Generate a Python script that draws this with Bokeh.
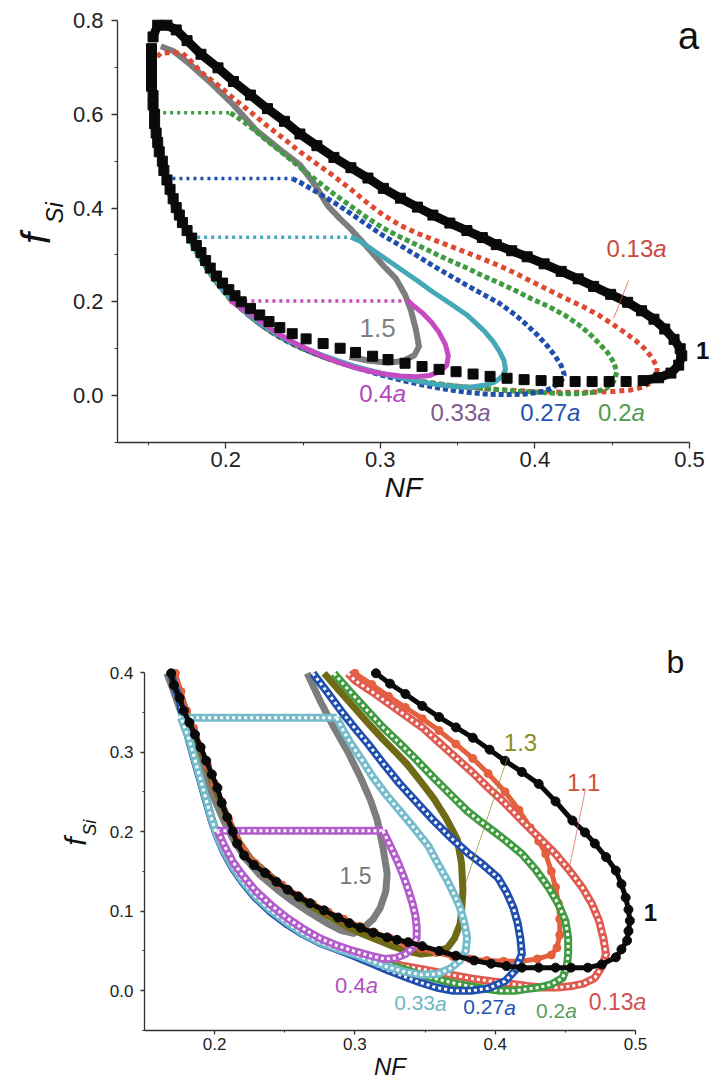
from bokeh.plotting import figure
from bokeh.models import Range1d, FixedTicker, Label, PrintfTickFormatter
from bokeh.layouts import column
from bokeh.embed import file_html
from bokeh.resources import INLINE

FONT = "Liberation Sans"

# ---------------- Panel a data (NF, f_Si) ----------------
BLACK_A_UPPER = [(0.153,0.765),(0.156,0.790),(0.162,0.790),(0.168,0.780),(0.175,0.757),(0.184,0.728),(0.195,0.699),(0.205,0.670),(0.216,0.641),(0.227,0.612),(0.238,0.585),(0.248,0.558),(0.259,0.533),(0.270,0.508),(0.281,0.486),(0.292,0.464),(0.302,0.442),(0.313,0.421),(0.324,0.402),(0.334,0.385),(0.345,0.368),(0.356,0.352),(0.366,0.337),(0.375,0.322),(0.385,0.309),(0.395,0.296),(0.406,0.281),(0.417,0.265),(0.428,0.249),(0.438,0.233),(0.449,0.216),(0.460,0.199),(0.469,0.181),(0.477,0.163),(0.484,0.142),(0.490,0.120),(0.494,0.100),(0.495,0.085),(0.493,0.065),(0.488,0.048),(0.480,0.038),(0.470,0.032)]
BLACK_A_LOWER = [(0.459,0.030),(0.448,0.030),(0.437,0.030),(0.426,0.030),(0.415,0.030),(0.404,0.032),(0.393,0.034),(0.382,0.037),(0.371,0.041),(0.360,0.046),(0.349,0.051),(0.338,0.056),(0.327,0.062),(0.316,0.069),(0.305,0.077),(0.295,0.084),(0.284,0.092),(0.274,0.101),(0.263,0.111),(0.252,0.121),(0.243,0.132),(0.235,0.145),(0.228,0.158),(0.222,0.172),(0.216,0.186),(0.210,0.200),(0.206,0.213),(0.202,0.226),(0.198,0.240),(0.194,0.255),(0.190,0.272),(0.187,0.288),(0.184,0.305),(0.181,0.320),(0.178,0.336),(0.175,0.352),(0.172,0.369),(0.170,0.385),(0.168,0.401),(0.166,0.420),(0.164,0.440),(0.162,0.460),(0.160,0.480),(0.159,0.500),(0.157,0.520),(0.156,0.540),(0.155,0.560),(0.154,0.580),(0.154,0.600),(0.153,0.620),(0.153,0.640),(0.152,0.660),(0.152,0.680),(0.152,0.700),(0.152,0.720),(0.152,0.740)]
RED_A = [(0.153,0.610),(0.153,0.650),(0.153,0.690),(0.154,0.718),(0.158,0.730),(0.165,0.732),(0.172,0.730),(0.178,0.712),(0.184,0.690),(0.195,0.662),(0.205,0.634),(0.216,0.605),(0.227,0.575),(0.238,0.547),(0.248,0.520),(0.259,0.494),(0.270,0.468),(0.281,0.440),(0.292,0.410),(0.302,0.385),(0.313,0.363),(0.324,0.346),(0.334,0.333),(0.345,0.319),(0.356,0.305),(0.366,0.292),(0.377,0.277),(0.388,0.260),(0.398,0.243),(0.409,0.225),(0.420,0.207),(0.431,0.190),(0.441,0.172),(0.450,0.153),(0.458,0.135),(0.465,0.118),(0.471,0.100),(0.476,0.080),(0.479,0.060),(0.479,0.045),(0.476,0.030),(0.470,0.018),(0.462,0.012),(0.452,0.009),(0.441,0.008),(0.430,0.007),(0.419,0.007),(0.408,0.008),(0.397,0.009),(0.386,0.011),(0.375,0.013),(0.364,0.016),(0.353,0.019),(0.342,0.023),(0.331,0.028),(0.320,0.034),(0.309,0.041),(0.298,0.049),(0.287,0.058),(0.276,0.068),(0.265,0.080),(0.254,0.094),(0.243,0.110),(0.233,0.128),(0.224,0.148),(0.216,0.168),(0.209,0.188),(0.203,0.205),(0.198,0.225),(0.193,0.245),(0.188,0.270),(0.183,0.295),(0.179,0.320),(0.176,0.340),(0.172,0.365),(0.168,0.390),(0.165,0.415),(0.163,0.440),(0.161,0.462),(0.159,0.490),(0.157,0.520),(0.155,0.550),(0.154,0.580),(0.153,0.610)]
GREEN_A_CUT = [(0.155,0.603),(0.203,0.603)]
GREEN_A = [(0.203,0.603),(0.209,0.590),(0.216,0.573),(0.227,0.543),(0.238,0.514),(0.248,0.487),(0.259,0.458),(0.270,0.430),(0.281,0.404),(0.292,0.378),(0.302,0.357),(0.313,0.338),(0.324,0.321),(0.334,0.305),(0.345,0.288),(0.356,0.272),(0.366,0.256),(0.377,0.240),(0.388,0.223),(0.398,0.206),(0.409,0.190),(0.420,0.170),(0.428,0.152),(0.435,0.133),(0.441,0.113),(0.447,0.092),(0.451,0.071),(0.453,0.050),(0.451,0.030),(0.446,0.015),(0.438,0.007),(0.428,0.004),(0.418,0.004),(0.408,0.006),(0.397,0.008),(0.386,0.010),(0.375,0.013),(0.364,0.016),(0.353,0.019),(0.342,0.023),(0.331,0.028),(0.320,0.034),(0.309,0.041),(0.298,0.049),(0.287,0.058),(0.276,0.068),(0.265,0.080),(0.254,0.094),(0.243,0.110),(0.233,0.128),(0.224,0.148),(0.216,0.168),(0.209,0.188),(0.203,0.205),(0.198,0.225),(0.193,0.245),(0.188,0.270),(0.183,0.295),(0.179,0.320),(0.176,0.340),(0.172,0.365),(0.168,0.390),(0.165,0.415),(0.163,0.440),(0.161,0.462),(0.159,0.490),(0.157,0.520),(0.155,0.550),(0.154,0.580),(0.155,0.603)]
BLUE_A_CUT = [(0.161,0.463),(0.243,0.463)]
BLUE_A = [(0.243,0.463),(0.248,0.455),(0.259,0.434),(0.270,0.412),(0.281,0.388),(0.292,0.363),(0.302,0.341),(0.313,0.320),(0.324,0.298),(0.334,0.277),(0.345,0.256),(0.356,0.235),(0.366,0.217),(0.377,0.197),(0.387,0.173),(0.395,0.150),(0.402,0.128),(0.408,0.106),(0.413,0.085),(0.417,0.064),(0.419,0.045),(0.417,0.030),(0.411,0.016),(0.403,0.007),(0.392,0.003),(0.381,0.002),(0.370,0.003),(0.359,0.006),(0.349,0.010),(0.338,0.016),(0.327,0.023),(0.316,0.031),(0.305,0.040),(0.294,0.050),(0.283,0.061),(0.272,0.072),(0.261,0.085),(0.250,0.100),(0.240,0.116),(0.231,0.134),(0.222,0.153),(0.215,0.172),(0.208,0.192),(0.203,0.208),(0.198,0.227),(0.193,0.248),(0.188,0.272),(0.183,0.297),(0.179,0.320),(0.176,0.340),(0.172,0.365),(0.168,0.390),(0.165,0.415),(0.163,0.440),(0.161,0.463)]
CYAN_A_CUT = [(0.177,0.338),(0.281,0.338)]
CYAN_A = [(0.281,0.338),(0.287,0.329),(0.292,0.318),(0.302,0.295),(0.313,0.270),(0.324,0.245),(0.334,0.221),(0.345,0.197),(0.356,0.172),(0.362,0.154),(0.368,0.135),(0.373,0.115),(0.377,0.095),(0.380,0.075),(0.381,0.056),(0.379,0.041),(0.374,0.029),(0.367,0.022),(0.358,0.018),(0.349,0.019),(0.338,0.023),(0.327,0.029),(0.316,0.036),(0.305,0.044),(0.294,0.053),(0.283,0.063),(0.272,0.075),(0.261,0.088),(0.250,0.103),(0.240,0.119),(0.231,0.136),(0.222,0.155),(0.215,0.173),(0.208,0.193),(0.203,0.208),(0.198,0.227),(0.193,0.248),(0.188,0.272),(0.183,0.297),(0.179,0.318),(0.177,0.338)]
MAGENTA_A_CUT = [(0.203,0.2017),(0.318,0.2017)]
MAGENTA_A = [(0.318,0.202),(0.322,0.190),(0.327,0.177),(0.333,0.157),(0.338,0.135),(0.342,0.110),(0.344,0.085),(0.343,0.065),(0.339,0.052),(0.332,0.043),(0.323,0.040),(0.313,0.042),(0.303,0.046),(0.293,0.052),(0.283,0.060),(0.273,0.071),(0.263,0.084),(0.253,0.099),(0.243,0.115),(0.234,0.132),(0.226,0.150),(0.219,0.167),(0.212,0.183),(0.207,0.194),(0.203,0.202)]
GRAY_A = [(0.158,0.745),(0.166,0.735),(0.175,0.712),(0.190,0.668),(0.205,0.620),(0.220,0.565),(0.235,0.525),(0.248,0.492),(0.258,0.448),(0.266,0.405),(0.274,0.377),(0.281,0.355),(0.292,0.315),(0.302,0.277),(0.310,0.250),(0.316,0.215),(0.320,0.180),(0.323,0.141),(0.325,0.105),(0.322,0.086),(0.315,0.074),(0.305,0.070),(0.292,0.075),(0.280,0.083)]

# ---------------- Panel b data ----------------
BLACK_B = [(0.315,0.399),(0.325,0.386),(0.336,0.373),(0.348,0.358),(0.360,0.344),(0.372,0.331),(0.384,0.318),(0.396,0.303),(0.407,0.289),(0.419,0.275),(0.431,0.260),(0.443,0.238),(0.455,0.214),(0.464,0.199),(0.471,0.185),(0.479,0.168),(0.486,0.151),(0.490,0.134),(0.493,0.117),(0.495,0.102),(0.496,0.088),(0.495,0.075),(0.494,0.063),(0.490,0.052),(0.486,0.042),(0.476,0.033),(0.466,0.029),(0.454,0.029),(0.443,0.029),(0.431,0.029),(0.419,0.029),(0.408,0.031),(0.397,0.034),(0.385,0.038),(0.372,0.044),(0.360,0.050),(0.348,0.056),(0.338,0.061),(0.330,0.064),(0.323,0.067),(0.313,0.073),(0.304,0.079),(0.296,0.085),(0.288,0.092),(0.278,0.101),(0.268,0.110),(0.260,0.118),(0.252,0.127),(0.244,0.137),(0.236,0.148),(0.228,0.158),(0.221,0.170),(0.216,0.185),(0.213,0.200),(0.209,0.218),(0.205,0.236),(0.202,0.255),(0.198,0.272),(0.194,0.289),(0.190,0.306),(0.186,0.322),(0.182,0.337),(0.178,0.352),(0.175,0.368),(0.171,0.384),(0.169,0.399)]
RED_FILLED_B = [(0.300,0.399),(0.312,0.385),(0.324,0.370),(0.336,0.356),(0.348,0.342),(0.360,0.327),(0.372,0.310),(0.384,0.292),(0.395,0.273),(0.407,0.250),(0.417,0.227),(0.425,0.205),(0.431,0.188),(0.436,0.172),(0.440,0.150),(0.443,0.130),(0.445,0.110),(0.446,0.090),(0.446,0.070),(0.444,0.054),(0.440,0.045),(0.430,0.040),(0.418,0.037),(0.406,0.037),(0.394,0.038),(0.382,0.040),(0.370,0.043),(0.358,0.048),(0.347,0.053),(0.336,0.059),(0.325,0.066),(0.314,0.073),(0.303,0.081),(0.292,0.090),(0.281,0.099),(0.270,0.109),(0.259,0.120),(0.248,0.133),(0.238,0.146),(0.229,0.160),(0.221,0.176),(0.215,0.195),(0.210,0.215),(0.205,0.238),(0.200,0.260),(0.195,0.283),(0.190,0.306),(0.185,0.330),(0.180,0.352),(0.176,0.376),(0.172,0.399)]
RED_OPEN_B = [(0.295,0.399),(0.300,0.390),(0.312,0.376),(0.324,0.361),(0.336,0.346),(0.348,0.331),(0.360,0.312),(0.372,0.293),(0.384,0.274),(0.395,0.255),(0.405,0.239),(0.414,0.223),(0.420,0.212),(0.431,0.193),(0.443,0.172),(0.453,0.151),(0.462,0.130),(0.469,0.109),(0.474,0.088),(0.477,0.067),(0.479,0.046),(0.476,0.030),(0.471,0.016),(0.463,0.009),(0.455,0.006),(0.444,0.004),(0.434,0.004),(0.423,0.006),(0.410,0.009),(0.397,0.012),(0.384,0.015),(0.372,0.019),(0.360,0.023),(0.348,0.027),(0.335,0.031),(0.323,0.036),(0.311,0.041),(0.299,0.047),(0.287,0.054),(0.275,0.062),(0.263,0.073),(0.252,0.086),(0.240,0.102),(0.229,0.120),(0.220,0.139),(0.213,0.157),(0.207,0.176),(0.202,0.195),(0.198,0.215),(0.194,0.240),(0.190,0.265),(0.186,0.290),(0.182,0.315),(0.178,0.343),(0.176,0.355),(0.175,0.368),(0.171,0.384),(0.169,0.399)]
GREEN_B = [(0.285,0.399),(0.297,0.375),(0.309,0.352),(0.320,0.331),(0.332,0.311),(0.344,0.290),(0.356,0.268),(0.368,0.247),(0.380,0.226),(0.390,0.212),(0.397,0.203),(0.408,0.188),(0.419,0.172),(0.429,0.152),(0.438,0.130),(0.445,0.109),(0.450,0.088),(0.452,0.067),(0.452,0.046),(0.451,0.030),(0.448,0.016),(0.440,0.008),(0.431,0.004),(0.422,0.002),(0.414,0.000),(0.404,0.000),(0.394,0.002),(0.384,0.005),(0.372,0.009),(0.360,0.014),(0.347,0.020),(0.335,0.027),(0.323,0.034),(0.311,0.041),(0.299,0.047),(0.287,0.054),(0.275,0.062),(0.263,0.073),(0.252,0.086),(0.240,0.102),(0.229,0.120),(0.220,0.139),(0.213,0.157),(0.207,0.176),(0.202,0.195),(0.198,0.215),(0.194,0.240),(0.190,0.265),(0.186,0.290),(0.182,0.315),(0.178,0.343),(0.176,0.355),(0.175,0.368),(0.171,0.384),(0.169,0.399)]
BLUE_B = [(0.270,0.399),(0.280,0.376),(0.290,0.352),(0.300,0.330),(0.309,0.311),(0.320,0.286),(0.332,0.260),(0.344,0.237),(0.356,0.214),(0.368,0.193),(0.380,0.174),(0.391,0.159),(0.402,0.142),(0.408,0.124),(0.413,0.104),(0.416,0.085),(0.418,0.065),(0.419,0.046),(0.414,0.025),(0.407,0.012),(0.395,0.003),(0.383,0.000),(0.370,0.000),(0.358,0.004),(0.347,0.010),(0.335,0.018),(0.323,0.026),(0.311,0.035),(0.299,0.044),(0.287,0.052),(0.275,0.060),(0.263,0.071),(0.252,0.083),(0.240,0.099),(0.229,0.117),(0.220,0.136),(0.213,0.154),(0.207,0.173),(0.202,0.193),(0.198,0.213),(0.194,0.238),(0.190,0.263),(0.186,0.288),(0.182,0.313),(0.178,0.341),(0.176,0.355),(0.175,0.368),(0.171,0.384),(0.169,0.399)]
CYAN_B_CUT = [(0.174,0.343),(0.287,0.343)]
CYAN_B = [(0.287,0.343),(0.292,0.326),(0.297,0.311),(0.305,0.290),(0.313,0.268),(0.322,0.247),(0.332,0.226),(0.342,0.205),(0.352,0.183),(0.359,0.160),(0.366,0.138),(0.371,0.120),(0.375,0.104),(0.378,0.085),(0.380,0.067),(0.379,0.050),(0.375,0.038),(0.368,0.028),(0.359,0.021),(0.347,0.020),(0.335,0.024),(0.323,0.030),(0.311,0.038),(0.299,0.046),(0.287,0.053),(0.275,0.061),(0.263,0.072),(0.252,0.085),(0.240,0.101),(0.229,0.119),(0.220,0.138),(0.213,0.156),(0.207,0.175),(0.202,0.194),(0.198,0.215),(0.194,0.240),(0.190,0.265),(0.186,0.290),(0.182,0.315),(0.176,0.343)]
MAGENTA_B_CUT = [(0.202,0.201),(0.320,0.201)]
MAGENTA_B = [(0.320,0.201),(0.325,0.183),(0.330,0.164),(0.334,0.147),(0.338,0.127),(0.341,0.110),(0.343,0.095),(0.344,0.080),(0.344,0.066),(0.341,0.054),(0.336,0.046),(0.329,0.041),(0.321,0.040),(0.311,0.044),(0.299,0.050),(0.287,0.057),(0.275,0.066),(0.263,0.078),(0.252,0.091),(0.240,0.108),(0.229,0.126),(0.220,0.145),(0.213,0.162),(0.207,0.182),(0.202,0.201)]
GRAY_B = [(0.266,0.399),(0.275,0.365),(0.285,0.331),(0.295,0.300),(0.304,0.268),(0.311,0.240),(0.316,0.214),(0.320,0.180),(0.323,0.147),(0.322,0.125),(0.318,0.104),(0.313,0.090),(0.306,0.079),(0.299,0.072),(0.290,0.076),(0.280,0.085),(0.268,0.098),(0.256,0.112),(0.244,0.128),(0.232,0.146),(0.222,0.166),(0.214,0.188),(0.207,0.212),(0.200,0.240),(0.193,0.270),(0.186,0.300),(0.180,0.330),(0.174,0.360),(0.170,0.380),(0.166,0.399)]
OLIVE_B = [(0.278,0.399),(0.290,0.375),(0.300,0.355),(0.310,0.335),(0.320,0.316),(0.330,0.298),(0.337,0.285),(0.346,0.265),(0.356,0.242),(0.365,0.217),(0.373,0.190),(0.376,0.160),(0.377,0.126),(0.376,0.100),(0.375,0.084),(0.371,0.066),(0.366,0.054),(0.357,0.048),(0.347,0.046),(0.337,0.050),(0.327,0.056),(0.317,0.063),(0.306,0.071),(0.295,0.080),(0.284,0.091),(0.272,0.103),(0.260,0.117),(0.248,0.132),(0.237,0.148),(0.226,0.165),(0.218,0.185),(0.211,0.210),(0.205,0.235),(0.199,0.260),(0.193,0.290),(0.186,0.320),(0.180,0.350),(0.175,0.375),(0.171,0.399)]

# tick values and axis extents
XTICKS = [0.2, 0.3, 0.4, 0.5]
YTICKS_A = [0.0, 0.2, 0.4, 0.6, 0.8]
YTICKS_B = [0.0, 0.1, 0.2, 0.3, 0.4]
XBOUNDS_A, YBOUNDS_A = (0.13, 0.5), (-0.1, 0.8)
XBOUNDS_B, YBOUNDS_B = (0.15, 0.5), (-0.05, 0.4)

# colours
C_BLACK = "#0a0a0a"
C_RED = "#dc4a33"
C_GREEN = "#3f9b3f"
C_BLUE = "#1f4fae"
C_CYAN = "#45a8b6"
C_MAG = "#c64ac2"
C_GRAY = "#7d7d7d"
C_OLIVE = "#6f6a16"
C_CYAN_B = "#74bccb"
C_MAG_B = "#b35ccb"
C_RED_FILL = "#e4603e"
C_RED_OPEN = "#e05a50"


def X(pts):
    return [p[0] for p in pts]


def Y(pts):
    return [p[1] for p in pts]


def make_fig(h, xb, yb, left, right, top, bottom):
    # frame fills the whole canvas; axes are pinned at the data bounds
    sx = (710 - left - right) / (xb[1] - xb[0])
    sy = (h - top - bottom) / (yb[1] - yb[0])
    xr = (xb[0] - left / sx, xb[1] + right / sx)
    yr = (yb[0] - bottom / sy, yb[1] + top / sy)
    p = figure(width=710, height=h, x_range=Range1d(*xr), y_range=Range1d(*yr),
               output_backend="svg", toolbar_location=None)
    p.min_border = 0
    p.outline_line_color = None
    p.grid.visible = False
    p.background_fill_color = "white"
    p.border_fill_color = "white"
    p.xaxis.fixed_location = yb[0]
    p.xaxis.bounds = xb
    p.yaxis.fixed_location = xb[0]
    p.yaxis.bounds = yb
    return p


def style_axes(p, xminor, yticks, yminor, tsize, tick_out, x_std, y_std, nf_size, nf_std):
    p.xaxis.ticker = FixedTicker(ticks=XTICKS, minor_ticks=xminor)
    p.yaxis.ticker = FixedTicker(ticks=yticks, minor_ticks=yminor)
    for ax in (p.xaxis[0], p.yaxis[0]):
        ax.formatter = PrintfTickFormatter(format="%.1f")
        ax.axis_line_color = "#333333"
        ax.axis_line_width = 1.3
        ax.major_tick_line_color = "#333333"
        ax.minor_tick_line_color = "#333333"
        ax.major_tick_line_width = 1.3
        ax.major_tick_in = 0
        ax.major_tick_out = tick_out
        ax.minor_tick_in = 0
        ax.minor_tick_out = max(2, tick_out - 3)
        ax.major_label_text_font = FONT
        ax.major_label_text_font_size = tsize
        ax.major_label_text_color = "#222222"
    p.xaxis.major_label_standoff = x_std
    p.yaxis.major_label_standoff = y_std
    p.xaxis.axis_label = "NF"
    p.xaxis.axis_label_text_font = FONT
    p.xaxis.axis_label_text_font_style = "italic"
    p.xaxis.axis_label_text_font_size = nf_size
    p.xaxis.axis_label_text_color = "#111111"
    p.xaxis.axis_label_standoff = nf_std


def txt(p, x, y, text, size, color, style="normal", align="center", xo=0, angle=0.0):
    p.add_layout(Label(x=x, y=y, x_offset=xo, text=text, text_font=FONT,
                       text_font_size=f"{size}px", text_color=color,
                       text_font_style=style, text_align=align,
                       text_baseline="middle", angle=angle))


def a_label(p, x, y, num, size, color):
    w_num = sum(0.278 if c == "." else 0.556 for c in num) * size
    w_a = 0.556 * size
    split = -(w_num + w_a) / 2 + w_num
    txt(p, x, y, num, size, color, align="right", xo=split)
    txt(p, x, y, "a", size, color, style="italic", align="left", xo=split)


# ---------------- Panel a ----------------
pa = make_fig(540, XBOUNDS_A, YBOUNDS_A, 117, 21, 20, 98)
style_axes(pa, [0.15, 0.25, 0.35, 0.45], YTICKS_A, [-0.1, 0.1, 0.3, 0.5, 0.7],
           "22px", 6, 3, 8, "28px", 2)

pa.line(X(GRAY_A), Y(GRAY_A), line_color=C_GRAY, line_width=6, line_join="round")
pa.line(X(RED_A), Y(RED_A), line_color=C_RED, line_width=5, line_dash="5 4")
for cut, series, col, dash in [(GREEN_A_CUT, GREEN_A, C_GREEN, "5 3"),
                               (BLUE_A_CUT, BLUE_A, C_BLUE, "5 3")]:
    pa.line(X(cut), Y(cut), line_color=col, line_width=3.5, line_dash="3 4")
    pa.line(X(series), Y(series), line_color=col, line_width=5, line_dash=dash)
for cut, series, col in [(CYAN_A_CUT, CYAN_A, C_CYAN), (MAGENTA_A_CUT, MAGENTA_A, C_MAG)]:
    pa.line(X(cut), Y(cut), line_color=col, line_width=3.5, line_dash="3 4")
    pa.line(X(series), Y(series), line_color=col, line_width=5, line_join="round")
pa.line(X(BLACK_A_UPPER), Y(BLACK_A_UPPER), line_color=C_BLACK, line_width=9, line_join="round")
pa.scatter(X(BLACK_A_UPPER), Y(BLACK_A_UPPER), marker="square", size=10, color=C_BLACK)
pa.scatter(X(BLACK_A_LOWER), Y(BLACK_A_LOWER), marker="square", size=10, color=C_BLACK)

LEADERS_A = [((0.4606, 0.2454), (0.4509, 0.1644), C_RED)]
for (x0, y0), (x1, y1), col in LEADERS_A:
    pa.line([x0, x1], [y0, y1], line_color=col, line_width=1, line_alpha=0.7)

txt(pa, 0.4994, 0.766, "a", 38, "#111111")
a_label(pa, 0.4658, 0.3137, "0.13", 24, "#c84a3c")
txt(pa, 0.5085, 0.096, "1", 24, "#111111", style="bold")
txt(pa, 0.2982, 0.1452, "1.5", 26, "#808080")
a_label(pa, 0.3015, 0.0044, "0.4", 24, "#b445c0")
a_label(pa, 0.3519, -0.0362, "0.33", 24, "#7d5b8f")
a_label(pa, 0.4100, -0.0362, "0.27", 24, "#2452b4")
a_label(pa, 0.4560, -0.0362, "0.2", 24, "#4f9c4f")
# y-axis title f_Si (rotated)
txt(pa, 0.077, 0.335, "f", 40, "#111111", style="italic", angle=1.5708)
txt(pa, 0.089, 0.390, "Si", 24, "#111111", style="italic", angle=1.5708)

# ---------------- Panel b ----------------
pb = make_fig(549, XBOUNDS_B, YBOUNDS_B, 144, 75, 132, 59)
style_axes(pb, [0.25, 0.35, 0.45], YTICKS_B, [-0.05, 0.05, 0.15, 0.25, 0.35],
           "17px", 4, 3, 7, "24px", 0)

pb.line(X(GRAY_B), Y(GRAY_B), line_color=C_GRAY, line_width=7, line_join="round")
pb.line(X(OLIVE_B), Y(OLIVE_B), line_color=C_OLIVE, line_width=7, line_join="round")
pb.line(X(RED_FILLED_B), Y(RED_FILLED_B), line_color=C_RED_FILL, line_width=5, line_join="round")
pb.scatter(X(RED_FILLED_B), Y(RED_FILLED_B), marker="circle", size=8, color=C_RED_FILL)

OPEN_B = [(RED_OPEN_B, C_RED_OPEN), (GREEN_B, C_GREEN), (BLUE_B, C_BLUE),
          (CYAN_B_CUT, C_CYAN_B), (CYAN_B, C_CYAN_B),
          (MAGENTA_B_CUT, C_MAG_B), (MAGENTA_B, C_MAG_B)]
for series, col in OPEN_B:
    pb.line(X(series), Y(series), line_color=col, line_width=8, line_join="round")
    pb.line(X(series), Y(series), line_color="white", line_width=3, line_dash="3 3",
            line_join="round")

pb.line(X(BLACK_B), Y(BLACK_B), line_color=C_BLACK, line_width=5, line_join="round")
pb.scatter(X(BLACK_B), Y(BLACK_B), marker="circle", size=9, color=C_BLACK)

LEADERS_B = [((0.4643, 0.2528), (0.4523, 0.1498), C_RED_OPEN),
             ((0.4088, 0.2932), (0.3788, 0.1347), "#8c8c1e")]
for (x0, y0), (x1, y1), col in LEADERS_B:
    pb.line([x0, x1], [y0, y1], line_color=col, line_width=1, line_alpha=0.7)

txt(pb, 0.5285, 0.4138, "b", 32, "#111111")
txt(pb, 0.418, 0.312, "1.3", 24, "#8c8c1e")
txt(pb, 0.463, 0.2617, "1.1", 24, "#d0503a")
txt(pb, 0.5107, 0.0983, "1", 24, "#111111", style="bold")
txt(pb, 0.3004, 0.1448, "1.5", 23, "#777777")
a_label(pb, 0.3011, 0.0066, "0.4", 22, "#b050c0")
a_label(pb, 0.3467, -0.016, "0.33", 21, "#6fb6c4")
a_label(pb, 0.3960, -0.021, "0.27", 21, "#2452b4")
a_label(pb, 0.4437, -0.025, "0.2", 21, "#5a9d5a")
a_label(pb, 0.4872, -0.0136, "0.13", 23, "#d05050")
txt(pb, 0.1008, 0.1876, "f", 30, "#111111", style="italic", angle=1.5708)
txt(pb, 0.1115, 0.2050, "Si", 18, "#111111", style="italic", angle=1.5708)

layout = column(pa, pb)
open("out.html", "w").write(file_html(layout, INLINE))
